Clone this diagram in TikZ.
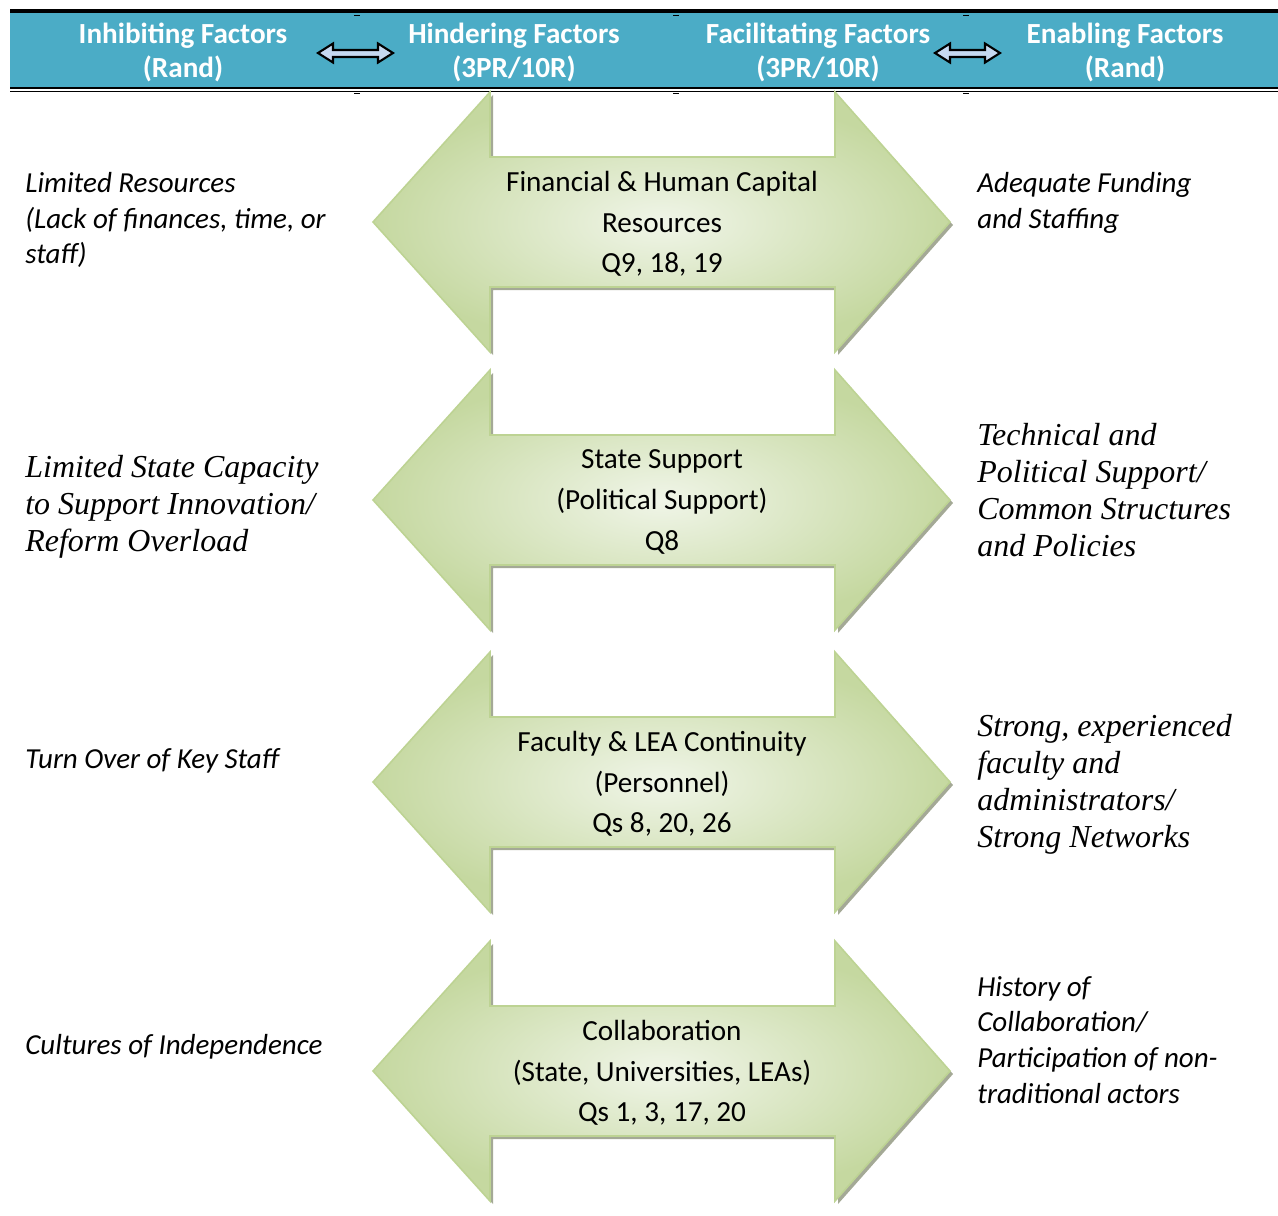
\documentclass[tikz,border=0pt]{standalone}
\usepackage{fontspec}
\setmainfont{Carlito}
\newfontfamily\tnr{Liberation Serif}
\usetikzlibrary{positioning}

\definecolor{headteal}{HTML}{4BACC6}
\definecolor{arrowlite}{HTML}{F0F5E8}
\definecolor{arrowdark}{HTML}{C5D8A0}
\definecolor{arrowline}{HTML}{BDD393}
\definecolor{shadowgray}{HTML}{A4A996}
\definecolor{smallblue}{HTML}{C6D9F1}

\tikzset{
  headtxt/.style={text=white, font=\bfseries\fontsize{16.6}{19}\selectfont, align=center},
  midtxt/.style={font=\fontsize{16.6}{23.2}\selectfont, align=center},
  sidecal/.style={anchor=west, inner sep=0pt, align=left, font=\itshape\fontsize{16.5}{20.4}\selectfont},
  sidetnr/.style={anchor=west, inner sep=0pt, align=left, font=\tnr\itshape\fontsize{18.2}{21}\selectfont},
  bigarrow/.style={draw=arrowline, line width=0.9pt, inner color=arrowlite, outer color=arrowdark},
  smallarrow/.style={draw=black, line width=1.2pt, fill=smallblue, line join=miter},
}

\begin{document}
\begin{tikzpicture}[x=0.02cm, y=-0.02cm]
    \useasboundingbox (0,0) rectangle (1278,1215);

    % header band
    \fill[headteal] (10,13) rectangle (1278,87);
    \draw[line width=4pt*0.57] (10,11) -- (1278,11);
    \draw[line width=2.6pt*0.57] (10,88) -- (1278,88);
    \draw[line width=1.2pt*0.57] (10,91.5) -- (1278,91.5);
    \foreach \x in {357, 676, 966} {
        \draw[line width=1.1pt] (\x-3,15.5) -- (\x+3,15.5);
        \draw[line width=1.1pt] (\x-3,93.5) -- (\x+3,93.5);
    }

    \node[headtxt] (inhib) at (183,52.5) {Inhibiting Factors\\(Rand)};
    \node[headtxt] (hinder) at (514,52.5) {Hindering Factors\\(3PR/10R)};
    \node[headtxt] (facil) at (818,52.5) {Facilitating Factors\\(3PR/10R)};
    \node[headtxt] (enable) at (1125,52.5) {Enabling Factors\\(Rand)};

    % small double arrows in the header
    \foreach \a/\b in {318/393, 935/1000} {
        \path[smallarrow] (\a,53) -- (\a+15,43.5) -- (\a+15,50) -- (\b-15,50) -- (\b-15,43.5)
            -- (\b,53) -- (\b-15,62.5) -- (\b-15,57) -- (\a+15,57) -- (\a+15,62.5) -- cycle;
    }

    % big double arrows with their labels
    \foreach \c/\txt [count=\i] in {
        222/{Financial \& Human Capital\\Resources\\Q9, 18, 19},
        500/{State Support\\(Political Support)\\Q8},
        782/{Faculty \& LEA Continuity\\(Personnel)\\Qs 8, 20, 26},
        1071/{Collaboration\\(State, Universities, LEAs)\\Qs 1, 3, 17, 20}} {
        \fill[shadowgray] (376,\c+3) -- (493,\c-127) -- (493,\c-62) -- (838,\c-62) -- (838,\c-127)
            -- (953,\c+3) -- (838,\c+133) -- (838,\c+68) -- (493,\c+68) -- (493,\c+133) -- cycle;
        \shade[bigarrow] (373,\c) -- (490,\c-130) -- (490,\c-65) -- (835,\c-65) -- (835,\c-130)
            -- (950,\c) -- (835,\c+130) -- (835,\c+65) -- (490,\c+65) -- (490,\c+130) -- cycle;
        \node[midtxt] (mid\i) at (662,\c+2) {\txt};
    }

    % left column
    \node[sidecal] (left1) at (25,220) {Limited Resources\\(Lack of finances, time, or\\staff)};
    \node[sidetnr] (left2) at (25,507) {Limited State Capacity\\to Support Innovation/\\Reform Overload};
    \node[sidecal] (left3) at (25,761) {Turn Over of Key Staff};
    \node[sidecal] (left4) at (25,1047) {Cultures of Independence};

    % right column
    \node[sidecal] (right1) at (977,203) {Adequate Funding\\and Staffing};
    \node[sidetnr] (right2) at (977,490) {Technical and\\Political Support/\\Common Structures\\and Policies};
    \node[sidetnr] (right3) at (977,784) {Strong, experienced\\faculty and\\administrators/\\Strong Networks};
    \node[sidecal] (right4) at (977,1040) {History of\\Collaboration/\\Participation of non-\\traditional actors};
\end{tikzpicture}
\end{document}
